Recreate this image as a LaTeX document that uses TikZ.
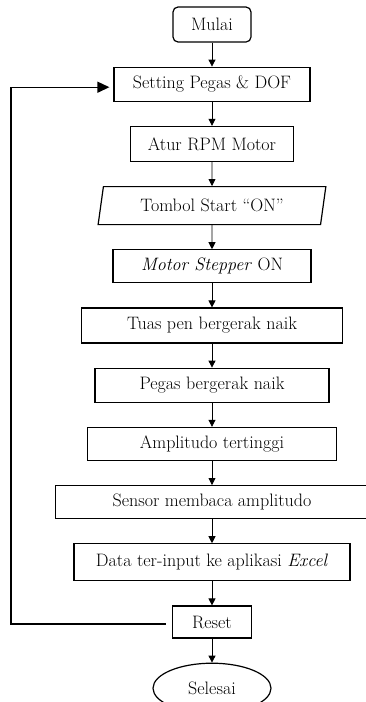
\documentclass[tikz,border=0pt]{standalone}
\usetikzlibrary{arrows.meta,positioning,shapes.geometric}

\begin{document}
\begin{tikzpicture}[node distance=24pt, every node/.style={font=\fontsize{18}{21}\selectfont}, box/.style={draw,line width=1.2pt,align=center,minimum height=34pt,inner sep=2pt}, arr/.style={-{Triangle[length=7pt,width=7pt]},line width=0.8pt}, backarr/.style={-{Triangle[length=12pt,width=11pt]},line width=1.4pt}]
\useasboundingbox (0,0) rectangle (366pt,-702pt);
\node[box,rounded corners=5pt,minimum width=78pt,minimum height=35pt] (mulai) at (212pt,-24.5pt) {Mulai};
\node[box,below=of mulai,minimum width=196pt] (setting) {Setting Pegas \& DOF};
\node[box,below=of setting,minimum width=163pt,minimum height=35pt] (rpm) {Atur RPM Motor};
\node[box,trapezium,trapezium left angle=78,trapezium right angle=102,trapezium stretches=true,minimum width=228pt,minimum height=38pt,below=of rpm] (start) {Tombol Start ``ON''};
\node[box,below=of start,minimum width=198pt,minimum height=33pt] (stepper) {\textit{Motor Stepper} ON};
\node[box,below=of stepper,minimum width=261pt,minimum height=35pt] (tuas) {Tuas pen bergerak naik};
\node[box,below=of tuas,minimum width=234pt] (pegas) {Pegas bergerak naik};
\node[box,below=of pegas,minimum width=249pt,minimum height=33pt] (ampl) {Amplitudo tertinggi};
\node[box,below=of ampl,minimum width=313pt,minimum height=33pt] (sensor) {Sensor membaca amplitudo};
\node[box,below=of sensor,minimum width=276pt,minimum height=37pt] (data) {Data ter-input ke aplikasi \textit{Excel}};
\node[box,below=of data,minimum width=79pt,minimum height=32pt] (reset) {Reset};
\node[box,ellipse,below=of reset,minimum width=118pt,minimum height=50pt] (selesai) {Selesai};
\foreach \a/\b in {mulai/setting,setting/rpm,rpm/start,start/stepper,stepper/tuas,tuas/pegas,pegas/ampl,ampl/sensor,sensor/data,data/reset,reset/selesai}
  \draw[arr] (\a)--(\b);
% kembali ke setting
\coordinate (back) at (11pt,0);
\draw[backarr,shorten <=6pt,shorten >=4pt] ([yshift=-2pt]reset.west) -- ([yshift=-2pt]reset.west -| back) |- ([yshift=-3pt]setting.west);
\end{tikzpicture}
\end{document}
